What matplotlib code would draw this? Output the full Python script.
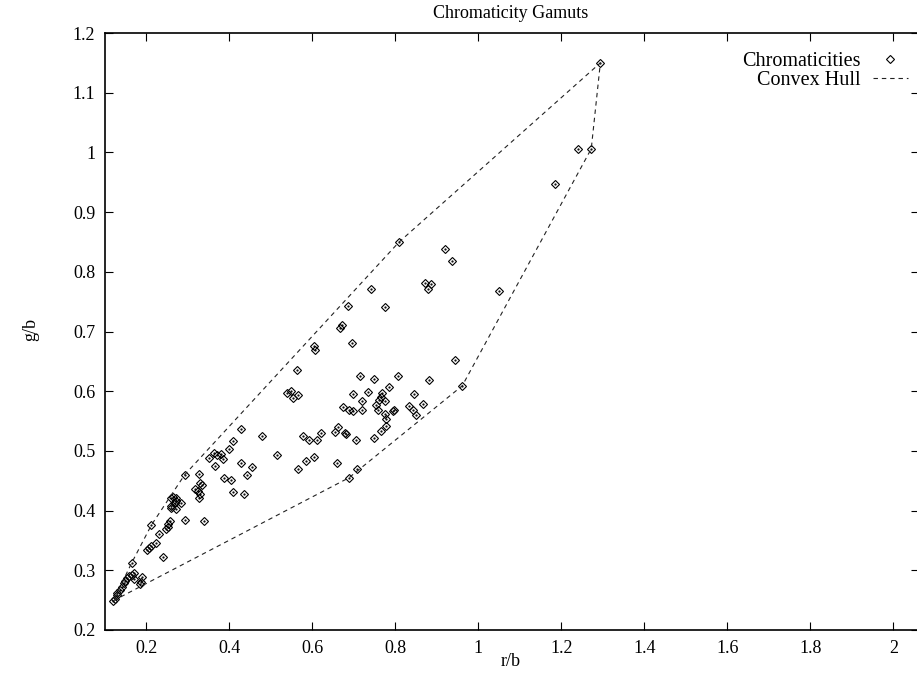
import matplotlib
matplotlib.use("Agg")
import matplotlib.pyplot as plt
import numpy as np

# chromaticity points (r/b, g/b)
rb = [1.294, 1.241, 1.272, 1.185, 0.809, 0.920, 0.937, 0.872, 0.885, 0.879,
      1.050, 0.741, 0.775, 0.686, 0.667, 0.672, 0.604, 0.607, 0.695, 0.944,
      0.562, 0.714, 0.748, 0.806, 0.881, 0.961, 0.538, 0.548, 0.553, 0.565,
      0.698, 0.734, 0.768, 0.785, 0.765, 0.719, 0.760, 0.775, 0.845, 0.867,
      0.673, 0.688, 0.698, 0.719, 0.753, 0.758, 0.775, 0.794, 0.797, 0.833,
      0.843, 0.850, 0.777, 0.777, 0.765, 0.748, 0.661, 0.654, 0.678, 0.681,
      0.705, 0.659, 0.707, 0.688, 0.577, 0.591, 0.611, 0.620, 0.584, 0.603,
      0.565, 0.429, 0.478, 0.514, 0.408, 0.398, 0.350, 0.362, 0.369, 0.379,
      0.384, 0.364, 0.427, 0.454, 0.442, 0.386, 0.403, 0.408, 0.434, 0.292,
      0.326, 0.328, 0.333, 0.318, 0.323, 0.330, 0.326, 0.258, 0.265, 0.270,
      0.272, 0.268, 0.260, 0.258, 0.282, 0.270, 0.292, 0.338, 0.212, 0.256,
      0.253, 0.251, 0.248, 0.229, 0.222, 0.212, 0.207, 0.202, 0.239, 0.164,
      0.171, 0.166, 0.159, 0.154, 0.149, 0.147, 0.190, 0.186, 0.185, 0.169,
      0.140, 0.135, 0.130, 0.128, 0.123, 0.120]
gb = [1.150, 1.006, 1.006, 0.947, 0.850, 0.838, 0.818, 0.782, 0.779, 0.772,
      0.768, 0.771, 0.741, 0.743, 0.706, 0.711, 0.676, 0.669, 0.681, 0.652,
      0.636, 0.625, 0.620, 0.625, 0.619, 0.609, 0.597, 0.600, 0.589, 0.594,
      0.595, 0.599, 0.597, 0.607, 0.590, 0.584, 0.585, 0.584, 0.595, 0.579,
      0.574, 0.569, 0.567, 0.569, 0.577, 0.569, 0.562, 0.567, 0.569, 0.575,
      0.569, 0.560, 0.553, 0.542, 0.533, 0.522, 0.540, 0.532, 0.530, 0.528,
      0.518, 0.480, 0.470, 0.455, 0.525, 0.518, 0.518, 0.530, 0.483, 0.490,
      0.470, 0.537, 0.525, 0.493, 0.517, 0.503, 0.488, 0.496, 0.493, 0.495,
      0.486, 0.475, 0.480, 0.473, 0.460, 0.455, 0.451, 0.431, 0.428, 0.460,
      0.461, 0.446, 0.443, 0.436, 0.433, 0.428, 0.421, 0.421, 0.423, 0.421,
      0.416, 0.413, 0.408, 0.404, 0.413, 0.403, 0.384, 0.383, 0.376, 0.383,
      0.378, 0.373, 0.369, 0.361, 0.346, 0.341, 0.337, 0.334, 0.322, 0.312,
      0.295, 0.292, 0.290, 0.287, 0.282, 0.279, 0.289, 0.280, 0.277, 0.285,
      0.272, 0.267, 0.262, 0.259, 0.252, 0.249]

x_ticks = [0.2, 0.4, 0.6, 0.8, 1, 1.2, 1.4, 1.6, 1.8, 2]
x_ticklabels = ["0.2", "0.4", "0.6", "0.8", "1", "1.2", "1.4", "1.6", "1.8", "2"]
y_ticks = [0.2, 0.3, 0.4, 0.5, 0.6, 0.7, 0.8, 0.9, 1.0, 1.1, 1.2]
y_ticklabels = ["0.2", "0.3", "0.4", "0.5", "0.6", "0.7", "0.8", "0.9", "1", "1.1", "1.2"]


def convex_hull(xs, ys):
    # monotone chain, returns closed loop
    pts = sorted(set(zip(xs, ys)))

    def cross(o, a, b):
        return (a[0] - o[0]) * (b[1] - o[1]) - (a[1] - o[1]) * (b[0] - o[0])

    lower = []
    for p in pts:
        while len(lower) >= 2 and cross(lower[-2], lower[-1], p) <= 0:
            lower.pop()
        lower.append(p)
    upper = []
    for p in reversed(pts):
        while len(upper) >= 2 and cross(upper[-2], upper[-1], p) <= 0:
            upper.pop()
        upper.append(p)
    hull = lower[:-1] + upper[:-1]
    hull.append(hull[0])
    return [p[0] for p in hull], [p[1] for p in hull]


plt.rcParams['font.family'] = ['Liberation Serif', 'DejaVu Serif']
plt.rcParams['font.size'] = 13

fig = plt.figure(figsize=(9.17, 6.76), dpi=100)
ax = fig.add_axes([105 / 917, 46 / 676, (919 - 105) / 917, (630 - 33) / 676])

hx, hy = convex_hull(rb, gb)
ax.plot(rb, gb, ls='none', marker='D', ms=4.2, mfc='none', mec='black',
        mew=0.8, label='Chromaticities')
ax.plot(rb, gb, ls='none', marker='.', ms=1.2, color='black')
ax.plot(hx, hy, color='#222222', lw=0.8, ls=(0, (4, 3.5)), label='Convex Hull')

ax.set_xlim(0.1, 2.062)
ax.set_ylim(0.2, 1.2)
ax.set_xticks(x_ticks)
ax.set_xticklabels(x_ticklabels)
ax.set_yticks(y_ticks)
ax.set_yticklabels(y_ticklabels)
ax.tick_params(direction='in', length=6, width=0.8, top=True, right=True,
               labelsize=13)
ax.tick_params(axis='x', pad=7)
ax.tick_params(axis='y', pad=7)
for s in ax.spines.values():
    s.set_linewidth(1.2)

fig.text(511 / 917, 1 - 13 / 676, "Chromaticity Gamuts", ha='center', va='center', fontsize=13)
fig.text(511 / 917, 1 - 661 / 676, "r/b", ha='center', va='center', fontsize=13)
fig.text(31 / 917, 1 - 330 / 676, "g/b", ha='center', va='center', rotation=90, fontsize=13)

ax.legend(loc='upper right', bbox_to_anchor=(908 / 917, 1 - 52 / 676),
          bbox_transform=fig.transFigure, frameon=False, markerfirst=False,
          handlelength=1.75, handletextpad=0.6, labelspacing=0.0,
          borderpad=0, borderaxespad=0, fontsize=14.5)

fig.savefig("out.png", dpi=100)
